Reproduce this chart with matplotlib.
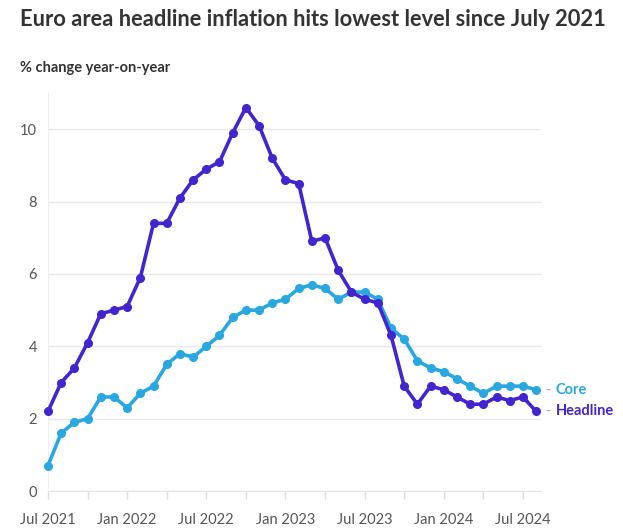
import matplotlib.pyplot as plt
import pandas as pd

plt.rcParams["font.family"] = ["Lato", "DejaVu Sans"]

months = pd.date_range("2021-07-01", "2024-08-01", freq="MS")

headline = [2.2, 3.0, 3.4, 4.1, 4.9, 5.0,
            5.1, 5.9, 7.4, 7.4, 8.1, 8.6, 8.9, 9.1, 9.9, 10.6, 10.1, 9.2,
            8.6, 8.5, 6.9, 7.0, 6.1, 5.5, 5.3, 5.2, 4.3, 2.9, 2.4, 2.9,
            2.8, 2.6, 2.4, 2.4, 2.6, 2.5, 2.6, 2.2]
core = [0.7, 1.6, 1.9, 2.0, 2.6, 2.6,
        2.3, 2.7, 2.9, 3.5, 3.8, 3.7, 4.0, 4.3, 4.8, 5.0, 5.0, 5.2,
        5.3, 5.6, 5.7, 5.6, 5.3, 5.5, 5.5, 5.3, 4.5, 4.2, 3.6, 3.4,
        3.3, 3.1, 2.9, 2.7, 2.9, 2.9, 2.9, 2.8]

yticks = [0, 2, 4, 6, 8, 10]
label_every = 6

c_head = "#4325d0"
c_core = "#29a7e1"

fig = plt.figure(figsize=(6.23, 5.32), dpi=100)
ax = fig.add_axes([0.077, 0.077, 0.791, 0.748])

x = list(range(len(months)))
ax.plot(x, core, color=c_core, lw=2.6, marker="o", ms=5.5, clip_on=False, zorder=3)
ax.plot(x, headline, color=c_head, lw=2.6, marker="o", ms=5.5, clip_on=False, zorder=4)

ax.set_xlim(0, 37.35)
ax.set_ylim(0, 11)
ax.set_yticks(yticks)
ax.set_yticklabels([str(v) for v in yticks])
ax.grid(axis="y", color="#e8e8e8", lw=1)
ax.set_axisbelow(True)

ticks = list(range(0, len(months), 3))
ax.set_xticks(ticks)
ax.set_xticklabels([months[i].strftime("%b %Y") if i % label_every == 0 else "" for i in ticks])
ax.tick_params(axis="x", length=6, color="#dddddd", width=1, pad=10, labelsize=10.5, labelcolor="#555555")
ax.tick_params(axis="y", length=0, pad=8, labelsize=10.5, labelcolor="#555555")

for s in ["top", "right"]:
    ax.spines[s].set_visible(False)
ax.spines["left"].set_color("#eeeeee")
ax.spines["bottom"].set_color("#e5e5e5")

# end labels
for vals, name, col in [(core, "Core", c_core), (headline, "Headline", c_head)]:
    ax.annotate("- ", xy=(x[-1], vals[-1]), xytext=(7, 0), textcoords="offset points",
                va="center", ha="left", color="#aaaaaa", fontsize=10.5, annotation_clip=False)
    ax.annotate(name, xy=(x[-1], vals[-1]), xytext=(14, 0), textcoords="offset points",
                va="center", ha="left", color=col, fontsize=10.5, fontweight="bold",
                annotation_clip=False)

title = fig.text(20 / 623, 1 - 20 / 532, "Euro area headline inflation hits lowest level since July 2021",
                 fontsize=15, fontweight="bold", color="#333333", va="center", ha="left")
fig.canvas.draw()
w = title.get_window_extent().width
title.set_fontsize(15 * 587 / w)

fig.text(20 / 623, 1 - 68 / 532, "% change year-on-year", fontsize=10.5, fontweight="bold",
         color="#333333", va="center", ha="left")

fig.savefig("out.png", dpi=100)
